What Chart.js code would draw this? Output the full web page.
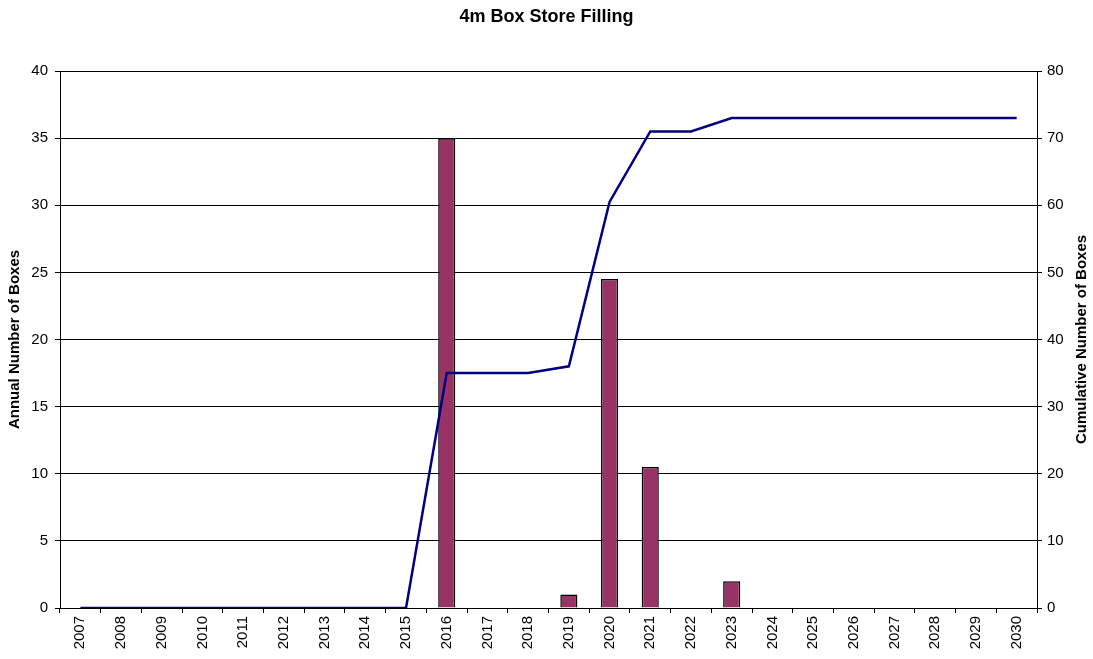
<!DOCTYPE html>
<html>
<head>
<meta charset="utf-8">
<script src="https://cdn.jsdelivr.net/npm/chart.js@4.4.1/dist/chart.umd.min.js"></script>
<style>
  html, body { margin: 0; padding: 0; background: #fff; }
  #wrap { width: 1093px; height: 659px; }
</style>
</head>
<body>
<div id="wrap"><canvas id="boxChart" width="1093" height="659"></canvas></div>
<script>
const years = ['2007', '2008', '2009', '2010', '2011', '2012', '2013', '2014', '2015', '2016', '2017', '2018',
  '2019', '2020', '2021', '2022', '2023', '2024', '2025', '2026', '2027', '2028', '2029', '2030'];

// boxes placed per year (null = nothing that year)
const annual = [null, null, null, null, null, null, null, null, null, 35, null, null,
  1, 24.5, 10.5, null, 2, null, null, null, null, null, null, null];

// running total of boxes in store
const cumulative = [0, 0, 0, 0, 0, 0, 0, 0, 0, 35, 35, 35,
  36, 60.5, 71, 71, 73, 73, 73, 73, 73, 73, 73, 73];

const FONT = 'Liberation Sans, Arial, sans-serif';
Chart.defaults.font.family = FONT;
Chart.defaults.color = '#000';

// axis titles drawn by hand so both read bottom-to-top
const axisTitles = {
  id: 'axisTitles',
  afterDraw(chart) {
    const { ctx, chartArea } = chart;
    const midY = (chartArea.top + chartArea.bottom) / 2;
    ctx.save();
    ctx.font = 'bold 15px ' + FONT;
    ctx.fillStyle = '#000';
    ctx.textAlign = 'center';
    ctx.textBaseline = 'middle';
    [[15, 'Annual Number of Boxes'], [1082, 'Cumulative Number of Boxes']].forEach(([x, text]) => {
      ctx.save();
      ctx.translate(x, midY);
      ctx.rotate(-Math.PI / 2);
      ctx.fillText(text, 0, 0);
      ctx.restore();
    });
    ctx.restore();
  }
};

new Chart(document.getElementById('boxChart'), {
  data: {
    labels: years,
    datasets: [
      {
        type: 'line',
        label: 'Cumulative',
        data: cumulative,
        yAxisID: 'y1',
        borderColor: '#000080',
        borderWidth: 2.5,
        tension: 0,
        pointRadius: 0,
        fill: false,
        order: 0
      },
      {
        type: 'bar',
        label: 'Annual',
        data: annual,
        yAxisID: 'y',
        backgroundColor: '#993366',
        borderColor: '#000',
        borderWidth: 1.5,
        categoryPercentage: 1,
        barPercentage: 0.42,
        order: 1
      }
    ]
  },
  options: {
    responsive: false,
    animation: false,
    layout: { padding: 0 },
    plugins: {
      legend: { display: false },
      tooltip: { enabled: false },
      title: {
        display: true,
        text: '4m Box Store Filling',
        font: { size: 18, weight: 'bold' },
        color: '#000',
        padding: { top: 6.2, bottom: 43.2 }
      }
    },
    scales: {
      x: {
        type: 'category',
        offset: true,
        grid: {
          offset: true,
          drawOnChartArea: false,
          drawTicks: true,
          tickLength: 5,
          color: '#000'
        },
        border: { color: '#000', width: 1 },
        ticks: {
          minRotation: 90,
          maxRotation: 90,
          autoSkip: false,
          font: { size: 15 },
          padding: 3
        },
        afterFit(scale) { scale.height = 51; }
      },
      y: {
        position: 'left',
        min: 0,
        max: 40,
        ticks: { stepSize: 5, font: { size: 15 }, padding: 7 },
        grid: { color: '#000', lineWidth: 1, tickLength: 5 },
        border: { color: '#000', width: 1 },
        afterFit(scale) { scale.width = 60; }
      },
      y1: {
        position: 'right',
        min: 0,
        max: 80,
        ticks: { stepSize: 10, font: { size: 15 }, padding: 5 },
        grid: { drawOnChartArea: false, color: '#000', tickLength: 5 },
        border: { color: '#000', width: 1 },
        afterFit(scale) { scale.width = 56; }
      }
    }
  },
  plugins: [axisTitles]
});
</script>
</body>
</html>
